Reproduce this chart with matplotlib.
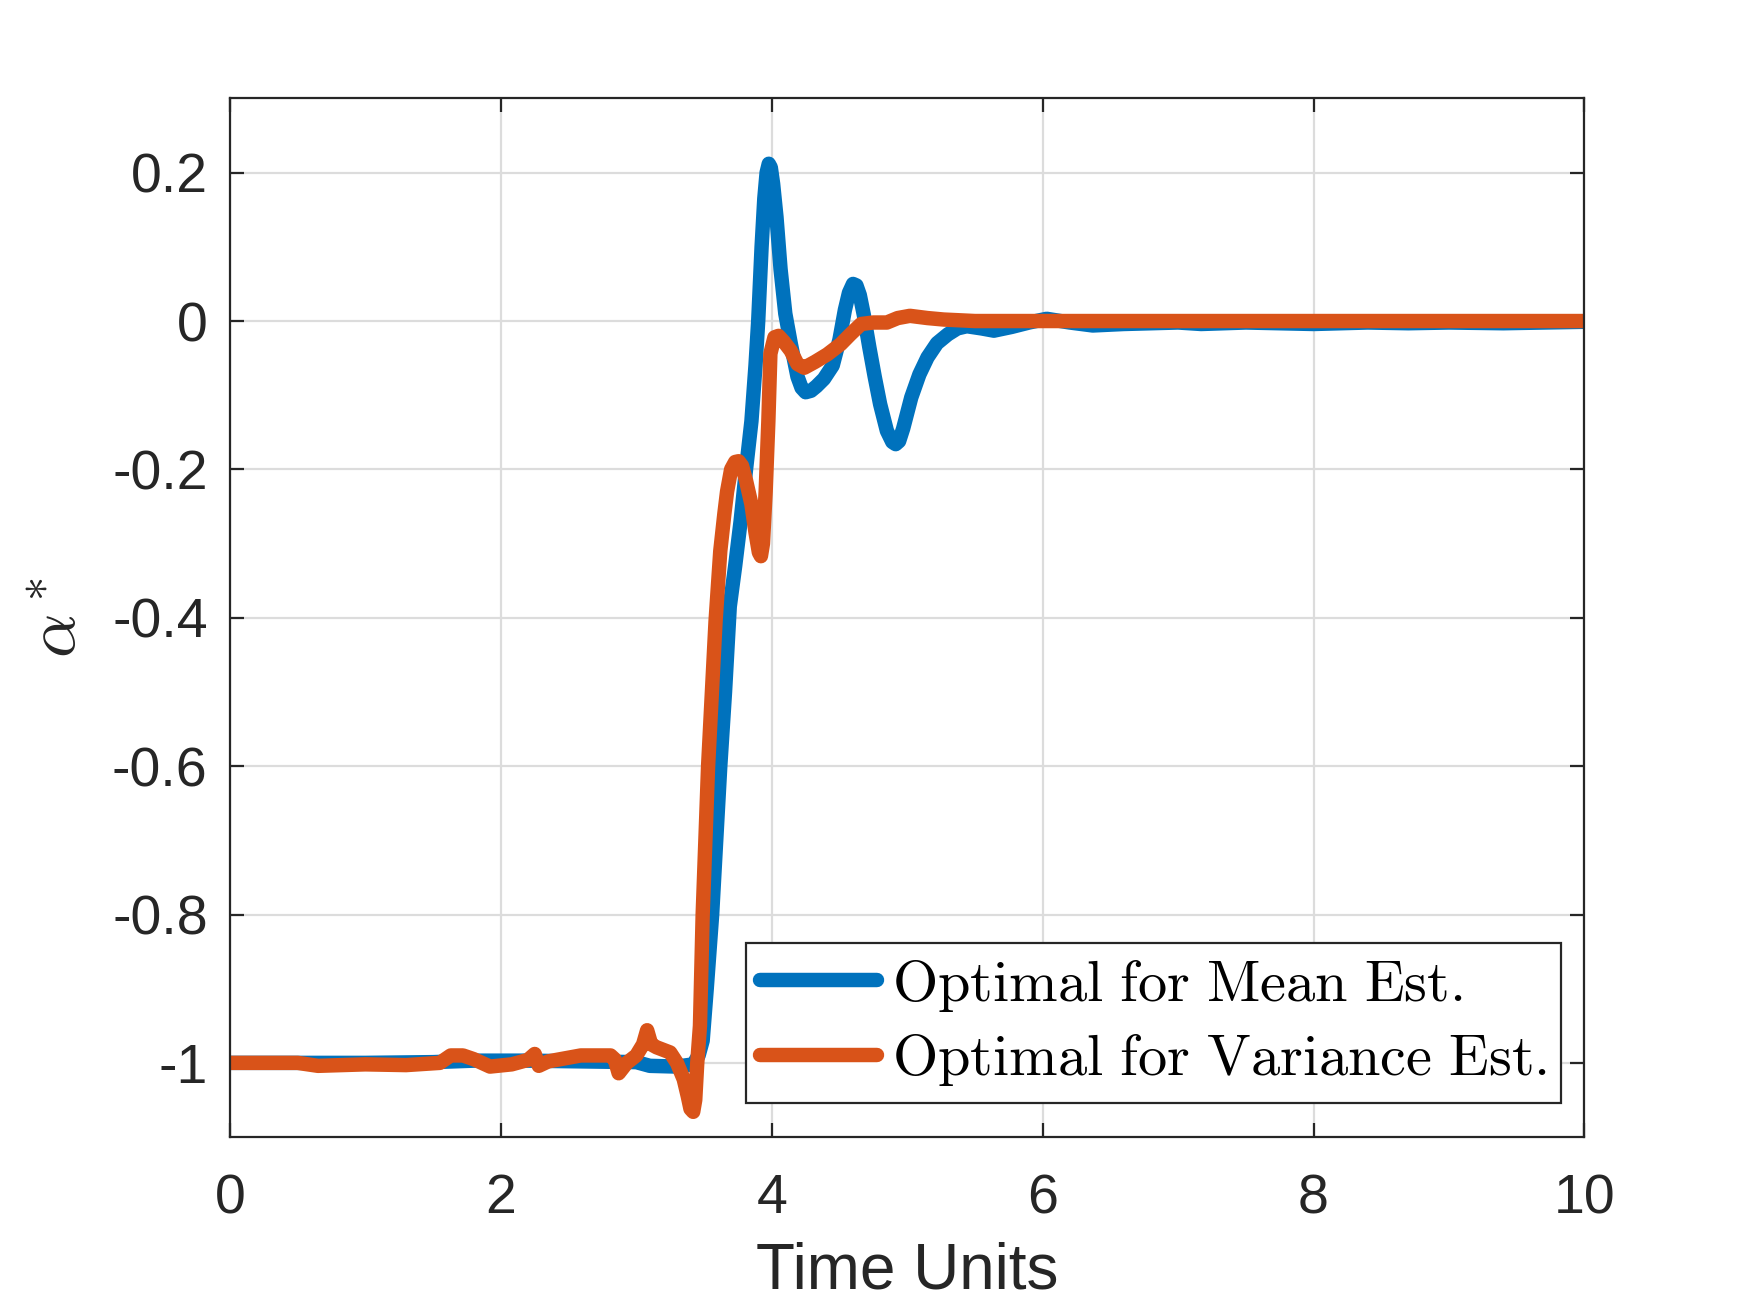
import matplotlib
matplotlib.use("Agg")
import matplotlib.pyplot as plt

plt.rcParams['mathtext.fontset'] = 'cm'
plt.rcParams['font.family'] = ['Liberation Sans', 'DejaVu Sans']

# Optimal for Mean Est. (blue)
t_mean = [0.0, 0.5, 1.0, 1.5, 1.8, 2.2, 2.6, 3.0, 3.1, 3.3, 3.42, 3.46, 3.49, 3.52,
          3.56, 3.59, 3.62, 3.655, 3.69, 3.73, 3.77, 3.81, 3.85, 3.88, 3.90, 3.925,
          3.945, 3.962, 3.978, 3.993, 4.01, 4.035, 4.065, 4.10, 4.14, 4.19, 4.22,
          4.25, 4.29, 4.33, 4.385, 4.45, 4.50, 4.54, 4.57, 4.60, 4.625, 4.65, 4.68,
          4.72, 4.76, 4.80, 4.85, 4.89, 4.915, 4.94, 4.97, 5.03, 5.09, 5.15, 5.22,
          5.30, 5.37, 5.44, 5.55, 5.64, 5.77, 5.9, 6.03, 6.2, 6.37, 6.6, 7.0, 7.17,
          7.5, 8.0, 8.4, 8.7, 9.0, 9.4, 10.0]
a_mean = [-1.0, -1.0, -1.0, -0.999, -0.997, -0.997, -0.998, -0.999, -1.004, -1.005,
          -1.002, -0.99, -0.97, -0.9, -0.8, -0.7, -0.6, -0.5, -0.385, -0.33,
          -0.27, -0.2, -0.135, -0.06, 0.0, 0.1, 0.165, 0.2, 0.212, 0.207, 0.185,
          0.14, 0.07, 0.01, -0.03, -0.075, -0.09, -0.096, -0.094, -0.088, -0.078,
          -0.06, -0.025, 0.015, 0.038, 0.05, 0.048, 0.035, 0.008, -0.035, -0.075,
          -0.112, -0.148, -0.163, -0.166, -0.162, -0.145, -0.103, -0.072, -0.049,
          -0.03, -0.018, -0.01, -0.007, -0.01, -0.013, -0.008, -0.002, 0.003,
          -0.002, -0.006, -0.004, -0.002, -0.004, -0.002, -0.004, -0.002, -0.003,
          -0.002, -0.003, -0.001]

# Optimal for Variance Est. (orange)
t_var = [0.0, 0.5, 0.65, 1.0, 1.3, 1.55, 1.63, 1.72, 1.8, 1.92, 2.08, 2.2, 2.25,
         2.28, 2.35, 2.59, 2.81, 2.84, 2.87, 2.93, 3.0, 3.05, 3.08, 3.11, 3.15,
         3.25, 3.30, 3.35, 3.38, 3.40, 3.42, 3.435, 3.45, 3.47, 3.49, 3.53, 3.585,
         3.62, 3.65, 3.67, 3.70, 3.73, 3.755, 3.78, 3.81, 3.85, 3.88, 3.905, 3.92,
         3.935, 3.955, 3.975, 3.99, 4.02, 4.05, 4.09, 4.14, 4.19, 4.24, 4.32, 4.41,
         4.51, 4.58, 4.66, 4.75, 4.85, 4.93, 5.02, 5.15, 5.27, 5.5, 10.0]
a_var = [-1.0, -1.0, -1.004, -1.002, -1.003, -1.0, -0.99, -0.99, -0.995, -1.005,
         -1.002, -0.996, -0.988, -1.004, -0.998, -0.99, -0.99, -0.995, -1.014,
         -1.0, -0.99, -0.975, -0.956, -0.975, -0.979, -0.986, -1.0, -1.022,
         -1.045, -1.062, -1.066, -1.05, -1.0, -0.95, -0.8, -0.6, -0.405, -0.31,
         -0.26, -0.23, -0.2, -0.19, -0.189, -0.195, -0.215, -0.247, -0.285,
         -0.312, -0.317, -0.3, -0.23, -0.135, -0.044, -0.022, -0.02, -0.028,
         -0.04, -0.058, -0.063, -0.055, -0.045, -0.031, -0.018, -0.004, -0.002,
         -0.002, 0.004, 0.007, 0.004, 0.002, 0.0, 0.0]

x_ticks = [0, 2, 4, 6, 8, 10]
y_ticks = [-1, -0.8, -0.6, -0.4, -0.2, 0, 0.2]
y_tick_labels = ['-1', '-0.8', '-0.6', '-0.4', '-0.2', '0', '0.2']
labels = [r'$\mathrm{Optimal\ for\ Mean\ Est.}$',
          r'$\mathrm{Optimal\ for\ Variance\ Est.}$']

fig = plt.figure(figsize=(8.75, 6.565), dpi=200)
ax = fig.add_axes([0.1314, 0.134, 0.774, 0.791])

ax.plot(t_mean, a_mean, color='#0072BD', lw=5.2, solid_joinstyle='round',
        solid_capstyle='round', label=labels[0])
ax.plot(t_var, a_var, color='#D95319', lw=5.2, solid_joinstyle='round',
        solid_capstyle='round', label=labels[1])

ax.set_xlim(0, 10)
ax.set_ylim(-1.1, 0.3)
ax.set_xticks(x_ticks)
ax.set_xticklabels([str(v) for v in x_ticks])
ax.set_yticks(y_ticks)
ax.set_yticklabels(y_tick_labels)
ax.tick_params(direction='in', length=5, width=0.8, top=True, right=True,
               labelsize=20, colors='#262626')
ax.tick_params(axis='x', pad=13)
ax.tick_params(axis='y', pad=8)
ax.grid(True, color='#dcdcdc', lw=0.8)
ax.set_axisbelow(True)
for s in ax.spines.values():
    s.set_color('#262626')
    s.set_linewidth(0.8)

ax.set_xlabel('Time Units', fontsize=23, color='#262626', labelpad=6)
ax.set_ylabel(r'$\alpha^*$', fontsize=25, color='#262626', labelpad=8)

leg = ax.legend(loc='lower right', bbox_to_anchor=(0.983, 0.033),
                borderaxespad=0, fontsize=21, handlelength=2.0,
                handletextpad=0.25, borderpad=0.25, labelspacing=0.32,
                fancybox=False, framealpha=1, edgecolor='#262626')
leg.get_frame().set_linewidth(0.8)

fig.savefig('out.png', dpi=200, facecolor='white')
